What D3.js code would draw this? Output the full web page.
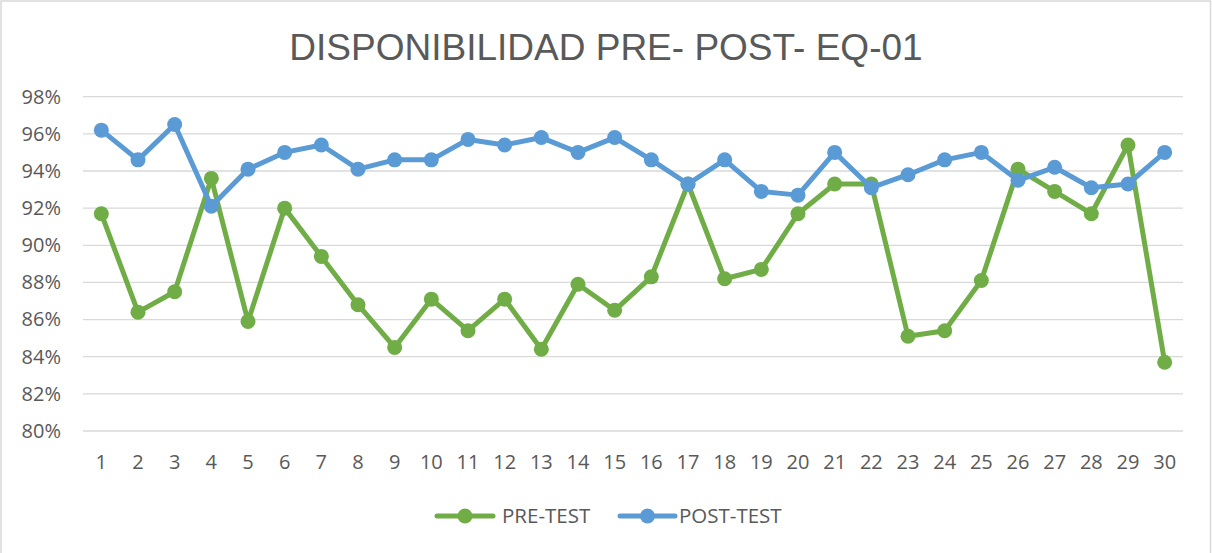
<!DOCTYPE html>
<html>
<head>
<meta charset="utf-8">
<script src="https://cdn.jsdelivr.net/npm/d3@7"></script>
<style>
  html, body { margin: 0; padding: 0; background: #fff; }
  svg { display: block; }
  text { font-family: "Open Sans", "Liberation Sans", sans-serif; fill: #595959; }
</style>
</head>
<body>
<svg id="chart" width="1212" height="553"></svg>
<script>
// Days of the trial
const days = d3.range(1, 31);

// Availability before the intervention (%)
const preTest = [
  91.7, 86.4, 87.5, 93.6, 85.9, 92.0, 89.4, 86.8, 84.5, 87.1,
  85.4, 87.1, 84.4, 87.9, 86.5, 88.3, 93.3, 88.2, 88.7, 91.7,
  93.3, 93.3, 85.1, 85.4, 88.1, 94.1, 92.9, 91.7, 95.4, 83.7
];

// Availability after the intervention (%)
const postTest = [
  96.2, 94.6, 96.5, 92.1, 94.1, 95.0, 95.4, 94.1, 94.6, 94.6,
  95.7, 95.4, 95.8, 95.0, 95.8, 94.6, 93.3, 94.6, 92.9, 92.7,
  95.0, 93.1, 93.8, 94.6, 95.0, 93.5, 94.2, 93.1, 93.3, 95.0
];

const yTicks = [80, 82, 84, 86, 88, 90, 92, 94, 96, 98];
const seriesNames = ["PRE-TEST", "POST-TEST"];
const seriesColors = ["#70AD47", "#5B9BD5"];
const title = "DISPONIBILIDAD PRE- POST- EQ-01";

const W = 1212, H = 553;
const plot = { left: 83, right: 1183, top: 96.7, bottom: 431 };

const svg = d3.select("#chart");

// outer chart frame
svg.append("rect")
  .attr("x", 1).attr("y", 1)
  .attr("width", W - 2.5).attr("height", H + 2)
  .attr("fill", "none").attr("stroke", "#D9D9D9").attr("stroke-width", 1.5);

const x = d3.scaleBand().domain(days).range([plot.left, plot.right]);
const y = d3.scaleLinear().domain([80, 98]).range([plot.bottom, plot.top]);
const cx = d => x(d) + x.bandwidth() / 2;

// title
svg.append("text")
  .attr("x", 606).attr("y", 60)
  .attr("text-anchor", "middle")
  .style("font-family", "'Liberation Sans', Arial, sans-serif")
  .style("font-size", "37px")
  .text(title);

// horizontal gridlines
svg.append("g")
  .selectAll("line")
  .data(yTicks)
  .join("line")
  .attr("x1", plot.left).attr("x2", plot.right)
  .attr("y1", d => y(d)).attr("y2", d => y(d))
  .attr("stroke", "#D9D9D9").attr("stroke-width", 1.3);

// y axis labels
const yAxis = d3.axisLeft(y).tickValues(yTicks).tickFormat(d => d + "%").tickSize(0).tickPadding(0);
const gy = svg.append("g").attr("transform", "translate(61,0)").call(yAxis);
gy.select(".domain").remove();
gy.selectAll("text").style("font-size", "20px").attr("fill", "#595959");

// x axis labels
const xAxis = d3.axisBottom(x).tickSize(0).tickPadding(0);
const gx = svg.append("g").attr("transform", "translate(0,455)").call(xAxis);
gx.select(".domain").remove();
gx.selectAll("text").style("font-size", "20px").attr("fill", "#595959").attr("dy", "0.71em");

// series
const series = [preTest, postTest];
const line = d3.line().x((d, i) => cx(days[i])).y(d => y(d));

series.forEach((vals, si) => {
  const g = svg.append("g");
  g.append("path")
    .attr("d", line(vals))
    .attr("fill", "none")
    .attr("stroke", seriesColors[si])
    .attr("stroke-width", 5)
    .attr("stroke-linejoin", "round")
    .attr("stroke-linecap", "round");
  g.selectAll("circle")
    .data(vals)
    .join("circle")
    .attr("cx", (d, i) => cx(days[i]))
    .attr("cy", d => y(d))
    .attr("r", 7.5)
    .attr("fill", seriesColors[si]);
});

// legend
const legendItems = [
  { x0: 437, x1: 493, tx: 502 },
  { x0: 620, x1: 675, tx: 679 }
];
const lg = svg.append("g");
legendItems.forEach((it, i) => {
  lg.append("line")
    .attr("x1", it.x0).attr("x2", it.x1)
    .attr("y1", 516).attr("y2", 516)
    .attr("stroke", seriesColors[i]).attr("stroke-width", 5)
    .attr("stroke-linecap", "round");
  lg.append("circle")
    .attr("cx", (it.x0 + it.x1) / 2).attr("cy", 516).attr("r", 7.5)
    .attr("fill", seriesColors[i]);
  lg.append("text")
    .attr("x", it.tx).attr("y", 516).attr("dy", "0.35em")
    .style("font-size", "20.5px")
    .text(seriesNames[i]);
});
</script>
</body>
</html>
